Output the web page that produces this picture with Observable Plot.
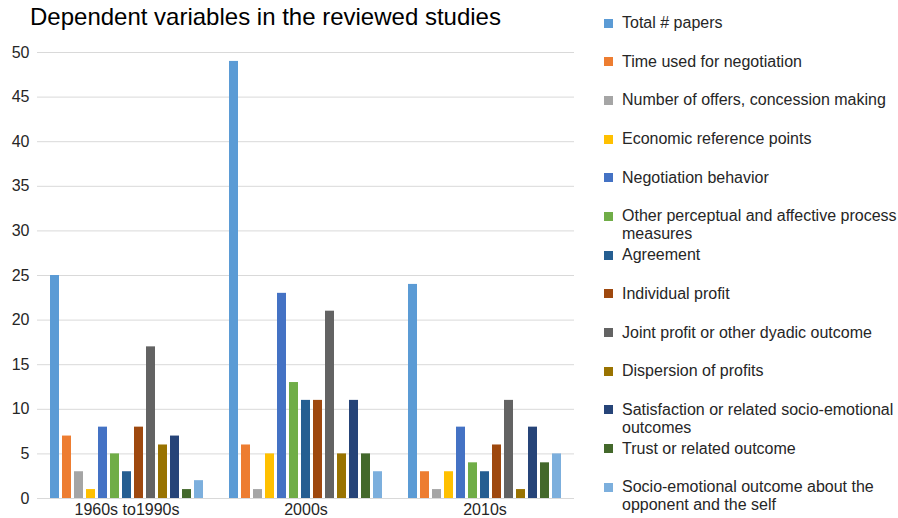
<!DOCTYPE html>
<html><head><meta charset="utf-8">
<script src="https://cdn.jsdelivr.net/npm/d3@7"></script>
<script src="https://cdn.jsdelivr.net/npm/@observablehq/plot@0.6"></script>
<style>
html,body{margin:0;padding:0;background:#fff;overflow:hidden;}
#wrap{position:relative;width:898px;height:518px;font-family:"Liberation Sans",Arial,sans-serif;}
#title{position:absolute;left:30px;top:3px;font-size:24px;color:#000;white-space:nowrap;}
#chart{position:absolute;left:0;top:40px;}
#legend{position:absolute;left:604px;top:14px;}
.row{height:38.7px;display:flex;align-items:flex-start;}
.sw{width:9px;height:9px;margin-top:4.5px;margin-right:9px;flex:none;}
.lab{font-size:16px;line-height:18px;color:#262626;width:285px;}
</style></head>
<body>
<div id="wrap">
  <div id="title">Dependent variables in the reviewed studies</div>
  <div id="chart"></div>
  <div id="legend"></div>
</div>
<script>
const groups = ["1960s to1990s", "2000s", "2010s"];
const series = [
  "Total # papers",
  "Time used for negotiation",
  "Number of offers, concession making",
  "Economic reference points",
  "Negotiation behavior",
  "Other perceptual and affective process measures",
  "Agreement",
  "Individual profit",
  "Joint profit or other dyadic outcome",
  "Dispersion of profits",
  "Satisfaction or related socio-emotional outcomes",
  "Trust or related outcome",
  "Socio-emotional outcome about the opponent and the self"
];
const colors = ["#5B9BD5","#ED7D31","#A5A5A5","#FFC000","#4472C4","#70AD47","#255E91","#9E480E","#636363","#997300","#264478","#43682B","#7CAFDD"];
const values1960s1990s = [25, 7, 3, 1, 8, 5, 3, 8, 17, 6, 7, 1, 2];
const values2000s = [49, 6, 1, 5, 23, 13, 11, 11, 21, 5, 11, 5, 3];
const values2010s = [24, 3, 1, 3, 8, 4, 3, 6, 11, 1, 8, 4, 5];
const yTicks = [0, 5, 10, 15, 20, 25, 30, 35, 40, 45, 50];

const valueSets = [values1960s1990s, values2000s, values2010s];
const data = [];
groups.forEach((g, gi) => series.forEach((s, si) => data.push({group: g, series: s, value: valueSets[gi][si]})));

const chart = Plot.plot({
  width: 590, height: 478,
  marginTop: 12, marginBottom: 20, marginLeft: 36, marginRight: 15,
  style: {fontFamily: '"Liberation Sans", Arial, sans-serif', background: "transparent"},
  fx: {domain: groups, padding: 0, label: null},
  x: {domain: series, paddingInner: 0.24, paddingOuter: 0.98, axis: null},
  y: {domain: [0, 50], label: null},
  color: {domain: series, range: colors},
  marks: [
    Plot.gridY(yTicks, {stroke: "#d9d9d9", strokeOpacity: 1, strokeWidth: 1}),
    Plot.barY(data, {fx: "group", x: "series", y: "value", fill: "series"}),
    Plot.axisY(yTicks, {tickSize: 0, tickPadding: 8, fontSize: 16, fill: "#262626", label: null}),
    Plot.axisFx({anchor: "bottom", tickSize: 0, tickPadding: 5, fontSize: 16, fill: "#262626", label: null})
  ]
});
document.getElementById("chart").appendChild(chart);

const legend = document.getElementById("legend");
series.forEach((s, i) => {
  const row = document.createElement("div");
  row.className = "row";
  const sw = document.createElement("div");
  sw.className = "sw";
  sw.style.background = colors[i];
  const lab = document.createElement("div");
  lab.className = "lab";
  lab.textContent = s;
  row.appendChild(sw);
  row.appendChild(lab);
  legend.appendChild(row);
});
</script>
</body></html>
